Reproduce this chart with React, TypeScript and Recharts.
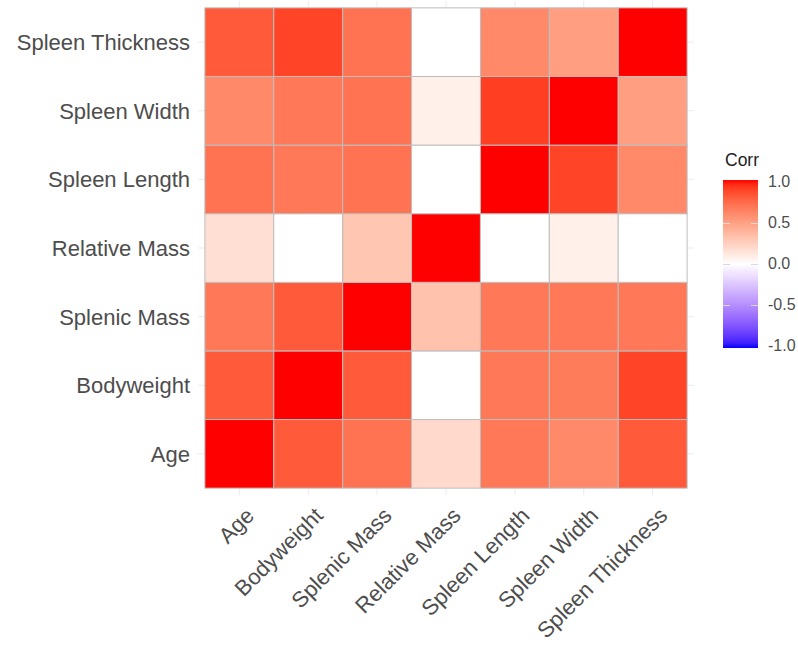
/**
 * Correlation heatmap (ggcorrplot look): 7 spleen / body measures,
 * white -> red tiles for positive correlation, blue for negative.
 */

import { CartesianGrid, Scatter, ScatterChart, XAxis, YAxis } from 'recharts';

const VARS = [
  'Age',
  'Bodyweight',
  'Splenic Mass',
  'Relative Mass',
  'Spleen Length',
  'Spleen Width',
  'Spleen Thickness',
];

// one row per variable, values against VARS left to right
const CORR_AGE = [1.0, 0.8, 0.7, 0.2, 0.68, 0.6, 0.8];
const CORR_BODYWEIGHT = [0.8, 1.0, 0.8, 0.0, 0.68, 0.66, 0.88];
const CORR_SPLENIC_MASS = [0.68, 0.8, 1.0, 0.32, 0.68, 0.68, 0.68];
const CORR_RELATIVE_MASS = [0.17, 0.0, 0.3, 1.0, 0.0, 0.08, 0.0];
const CORR_SPLEEN_LENGTH = [0.7, 0.68, 0.7, 0.0, 1.0, 0.88, 0.6];
const CORR_SPLEEN_WIDTH = [0.6, 0.68, 0.7, 0.08, 0.9, 1.0, 0.5];
const CORR_SPLEEN_THICKNESS = [0.8, 0.88, 0.7, 0.0, 0.6, 0.5, 1.0];

// bottom row first
const ROWS = [
  CORR_AGE,
  CORR_BODYWEIGHT,
  CORR_SPLENIC_MASS,
  CORR_RELATIVE_MASS,
  CORR_SPLEEN_LENGTH,
  CORR_SPLEEN_WIDTH,
  CORR_SPLEEN_THICKNESS,
];

const LEGEND_TICKS = [1.0, 0.5, 0.0, -0.5, -1.0];

const W = 798;
const H = 648;
const MARGIN = { top: 1, right: 104, bottom: 3, left: 8 };
const Y_AXIS_W = 190;
const X_AXIS_H = 150;
const PAD = 0.6;
const SPAN = VARS.length - 1 + 2 * PAD;
const PLOT_W = W - MARGIN.left - MARGIN.right - Y_AXIS_W;
const PLOT_H = H - MARGIN.top - MARGIN.bottom - X_AXIS_H;
const CELL_W = PLOT_W / SPAN;
const CELL_H = PLOT_H / SPAN;

const FONT = '"Liberation Sans", Arial, Helvetica, sans-serif';
const AXIS_TEXT = '#4D4D4D';

// --- Lab interpolation, like scale_fill_gradient2 ---
type Tri = [number, number, number];
const WHITE_REF: Tri = [0.95047, 1.0, 1.08883];

function toLinear(c: number) {
  const s = c / 255;
  return s <= 0.04045 ? s / 12.92 : Math.pow((s + 0.055) / 1.055, 2.4);
}
function fromLinear(c: number) {
  const s = c <= 0.0031308 ? 12.92 * c : 1.055 * Math.pow(c, 1 / 2.4) - 0.055;
  return Math.round(Math.max(0, Math.min(1, s)) * 255);
}
function rgbToLab([r, g, b]: Tri): Tri {
  const R = toLinear(r), G = toLinear(g), B = toLinear(b);
  const X = (0.4124 * R + 0.3576 * G + 0.1805 * B) / WHITE_REF[0];
  const Y = (0.2126 * R + 0.7152 * G + 0.0722 * B) / WHITE_REF[1];
  const Z = (0.0193 * R + 0.1192 * G + 0.9505 * B) / WHITE_REF[2];
  const f = (t: number) => (t > 0.008856 ? Math.cbrt(t) : 7.787 * t + 16 / 116);
  const fx = f(X), fy = f(Y), fz = f(Z);
  return [116 * fy - 16, 500 * (fx - fy), 200 * (fy - fz)];
}
function labToHex([L, a, b]: Tri): string {
  const fy = (L + 16) / 116;
  const fx = fy + a / 500;
  const fz = fy - b / 200;
  const inv = (t: number) => (t ** 3 > 0.008856 ? t ** 3 : (t - 16 / 116) / 7.787);
  const X = inv(fx) * WHITE_REF[0], Y = inv(fy) * WHITE_REF[1], Z = inv(fz) * WHITE_REF[2];
  const r = fromLinear(3.2406 * X - 1.5372 * Y - 0.4986 * Z);
  const g = fromLinear(-0.9689 * X + 1.8758 * Y + 0.0415 * Z);
  const bl = fromLinear(0.0557 * X - 0.204 * Y + 1.057 * Z);
  return '#' + [r, g, bl].map((v) => v.toString(16).padStart(2, '0')).join('');
}

const LAB_HIGH = rgbToLab([255, 0, 0]);
const LAB_MID = rgbToLab([255, 255, 255]);
const LAB_LOW = rgbToLab([0, 0, 255]);

function corrColor(v: number): string {
  const t = Math.min(1, Math.abs(v));
  const end = v >= 0 ? LAB_HIGH : LAB_LOW;
  return labToHex([
    LAB_MID[0] + (end[0] - LAB_MID[0]) * t,
    LAB_MID[1] + (end[1] - LAB_MID[1]) * t,
    LAB_MID[2] + (end[2] - LAB_MID[2]) * t,
  ]);
}

const tiles = ROWS.flatMap((row, yi) => row.map((v, xi) => ({ x: xi, y: yi, v })));
const tickIdx = VARS.map((_, i) => i);

function Tile(props: any) {
  const { cx, cy, payload } = props;
  if (cx == null || cy == null) return null;
  return (
    <rect
      x={cx - CELL_W / 2}
      y={cy - CELL_H / 2}
      width={CELL_W}
      height={CELL_H}
      fill={corrColor(payload.v)}
      stroke="#BEBEBE"
      strokeWidth={1}
    />
  );
}

function XTick({ x, y, payload }: any) {
  const ax = x + 16;
  return (
    <text
      x={ax}
      y={y}
      textAnchor="end"
      transform={`rotate(-45, ${ax}, ${y})`}
      fill={AXIS_TEXT}
      fontSize={22}
      fontFamily={FONT}
    >
      {VARS[payload.value]}
    </text>
  );
}

function YTick({ x, y, payload }: any) {
  return (
    <text
      x={x}
      y={y + 8}
      textAnchor="end"
      fill={AXIS_TEXT}
      fontSize={22}
      fontFamily={FONT}
    >
      {VARS[payload.value]}
    </text>
  );
}

// grid lines only through the tile centres (panel grid of theme_minimal)
function gridX({ offset }: any) {
  return tickIdx.map((i) => offset.left + ((i + PAD) / SPAN) * offset.width);
}
function gridY({ offset }: any) {
  return tickIdx.map((i) => offset.top + ((VARS.length - 1 + PAD - i) / SPAN) * offset.height);
}

function ColorLegend() {
  const barTop = 180;
  const barH = 168;
  const stops = Array.from({ length: 41 }, (_, i) => {
    const v = 1 - i / 20;
    return `${corrColor(v)} ${(i / 40) * 100}%`;
  }).join(', ');
  const tickY = (v: number) => barTop + 2 + ((1 - v) / 2) * (barH - 4);
  return (
    <div style={{ position: 'absolute', left: 0, top: 0, fontFamily: FONT }}>
      <div
        style={{
          position: 'absolute',
          left: 725,
          top: 150,
          fontSize: 17.5,
          color: '#222',
          whiteSpace: 'nowrap',
        }}
      >
        Corr
      </div>
      <div
        style={{
          position: 'absolute',
          left: 723,
          top: barTop,
          width: 35,
          height: barH,
          background: `linear-gradient(to bottom, ${stops})`,
        }}
      />
      {LEGEND_TICKS.map((v) => (
        <div key={v}>
          {v !== 1 && v !== -1 && (
            <>
              <div style={{ position: 'absolute', left: 723, top: tickY(v), width: 7, height: 1, background: '#DADADA' }} />
              <div style={{ position: 'absolute', left: 751, top: tickY(v), width: 7, height: 1, background: '#DADADA' }} />
            </>
          )}
          <div
            style={{
              position: 'absolute',
              left: 768,
              top: tickY(v) - 10,
              height: 20,
              lineHeight: '20px',
              fontSize: 16,
              color: AXIS_TEXT,
              whiteSpace: 'nowrap',
            }}
          >
            {v.toFixed(1)}
          </div>
        </div>
      ))}
    </div>
  );
}

export default function App() {
  return (
    <div style={{ position: 'absolute', left: 0, top: 0, width: W, height: H, background: '#fff' }}>
      <ScatterChart width={W} height={H} margin={MARGIN}>
        <CartesianGrid
          stroke="#EBEBEB"
          strokeWidth={1}
          horizontalCoordinatesGenerator={gridY}
          verticalCoordinatesGenerator={gridX}
        />
        <XAxis
          type="number"
          dataKey="x"
          domain={[-PAD, VARS.length - 1 + PAD]}
          ticks={tickIdx}
          interval={0}
          axisLine={false}
          tickLine={false}
          tickSize={0}
          tickMargin={22}
          height={X_AXIS_H}
          tick={<XTick />}
        />
        <YAxis
          type="number"
          dataKey="y"
          domain={[-PAD, VARS.length - 1 + PAD]}
          ticks={tickIdx}
          interval={0}
          axisLine={false}
          tickLine={false}
          tickSize={0}
          tickMargin={8}
          width={Y_AXIS_W}
          tick={<YTick />}
        />
        <Scatter data={tiles} shape={<Tile />} isAnimationActive={false} />
      </ScatterChart>
      <ColorLegend />
    </div>
  );
}
